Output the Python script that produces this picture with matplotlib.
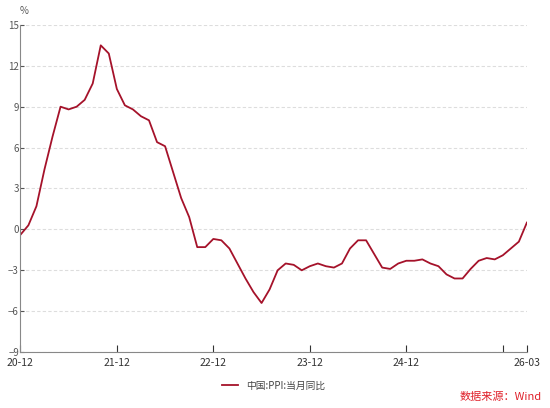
import matplotlib
matplotlib.use("Agg")
import matplotlib.pyplot as plt

plt.rcParams['font.family'] = ['Noto Sans CJK SC', 'DejaVu Sans']

values = [-0.4,
          0.3, 1.7, 4.4, 6.8, 9.0, 8.8, 9.0, 9.5, 10.7, 13.5, 12.9, 10.3,
          9.1, 8.8, 8.3, 8.0, 6.4, 6.1, 4.2, 2.3, 0.9, -1.3, -1.3, -0.7,
          -0.8, -1.4, -2.5, -3.6, -4.6, -5.4, -4.4, -3.0, -2.5, -2.6, -3.0, -2.7,
          -2.5, -2.7, -2.8, -2.5, -1.4, -0.8, -0.8, -1.8, -2.8, -2.9, -2.5, -2.3,
          -2.3, -2.2, -2.5, -2.7, -3.3, -3.6, -3.6, -2.9, -2.3, -2.1, -2.2, -1.9,
          -1.4, -0.9, 0.5]
tick_pos = [0, 12, 24, 36, 48, 60, 63]
tick_labels = ["20-12", "21-12", "22-12", "23-12", "24-12", "", "26-03"]
yticks = [-9, -6, -3, 0, 3, 6, 9, 12, 15]

fig = plt.figure(figsize=(5.5, 4.08), dpi=100)
ax = fig.add_axes([0.037, 0.137, 0.921, 0.802])
ax.plot(range(len(values)), values, color='#a5122a', lw=1.3, label='中国:PPI:当月同比')
ax.set_xlim(0, 63)
ax.set_ylim(-9, 15)
ax.set_yticks(yticks)
ax.set_xticks(tick_pos)
ax.set_xticklabels(tick_labels)
ax.grid(axis='y', ls=(0, (3, 2)), color='#dddddd', lw=0.8)
ax.set_axisbelow(True)
for s in ['top', 'right']:
    ax.spines[s].set_visible(False)
for s in ['left', 'bottom']:
    ax.spines[s].set_color('#888888')
    ax.spines[s].set_linewidth(0.8)
ax.tick_params(axis='y', length=3, pad=1, labelsize=7, colors='#555555', direction='in')
ax.tick_params(axis='x', length=5, pad=4, labelsize=7.5, colors='#333333', direction='in')
fig.text(0.035, 0.965, '%', fontsize=7, color='#555555')
ax.legend(loc='upper center', bbox_to_anchor=(0.5, -0.06), frameon=False, fontsize=7,
          handlelength=1.6, labelcolor='#444444')
fig.text(0.985, 0.015, '数据来源：Wind', color='#e0202a', fontsize=8, ha='right', va='bottom')
fig.savefig('out.png', dpi=100)
